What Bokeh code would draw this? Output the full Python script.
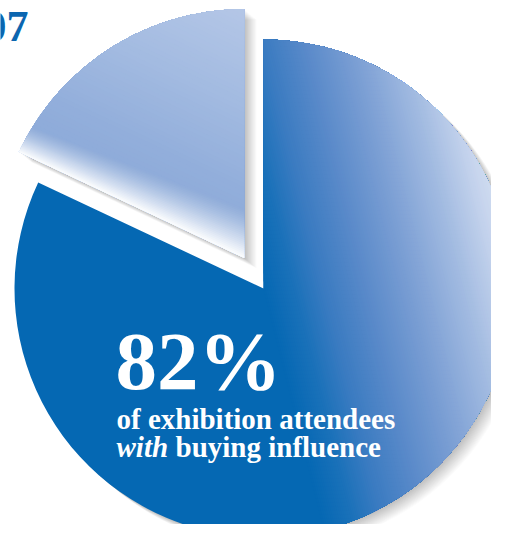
import numpy as np
from bokeh.plotting import figure
from bokeh.models import ColumnDataSource, Range1d
from bokeh.core.properties import value
from bokeh.embed import file_html
from bokeh.resources import INLINE

# ---------------- data ----------------
categories = ["with buying influence", "without buying influence"]
shares = [82, 18]
headline = "82%"
caption_line1 = "of exhibition attendees"
caption_italic = "with"
caption_rest = "buying influence"
page_label = "07"

# ---------------- layout / style ----------------
W, H = 491, 524
R = 249                      # pie radius (1 data unit = 1 px)
CX, CY = 263, 288            # pie centre in picture pixels
EXPLODE = [0, 36]
FONT = "Liberation Serif"
BASE_SHIFT = 0.31            # alphabetic baseline correction (fraction of font size)

p = figure(width=W, height=H, x_range=Range1d(-CX, W - CX), y_range=Range1d(CY - H, CY),
           output_backend="svg", toolbar_location=None, min_border=0)
p.axis.visible = False
p.grid.visible = False
p.outline_line_color = None
p.background_fill_color = "white"
p.border_fill_color = "white"

total = float(sum(shares))
cum = np.cumsum([0] + shares) / total
starts = np.pi / 2 - 2 * np.pi * cum[:-1]
ends = np.pi / 2 - 2 * np.pi * cum[1:]
mids = (starts + ends) / 2
cxs = [e * np.cos(m) for e, m in zip(EXPLODE, mids)]
cys = [e * np.sin(m) for e, m in zip(EXPLODE, mids)]


def hex2rgb(h):
    return np.array([int(h[i:i + 2], 16) for i in (1, 3, 5)], dtype=float)


def rgb2hex(c):
    c = np.clip(np.round(c), 0, 255).astype(int)
    return "#%02x%02x%02x" % tuple(c)


def ramp(stops, v):
    pos = [s[0] for s in stops]
    if v <= pos[0]:
        return stops[0][1]
    if v >= pos[-1]:
        return stops[-1][1]
    for (p0, c0), (p1, c1) in zip(stops[:-1], stops[1:]):
        if p0 <= v <= p1:
            t = (v - p0) / (p1 - p0)
            return rgb2hex(hex2rgb(c0) * (1 - t) + hex2rgb(c1) * t)


def mix(c0, c1, t):
    return rgb2hex(hex2rgb(c0) * (1 - t) + hex2rgb(c1) * t)


def wedge_poly(cx, cy, a0, a1, n=260):
    a = np.linspace(a0, a1, n)
    return [(cx, cy)] + list(zip(cx + R * np.cos(a), cy + R * np.sin(a)))


def clip(poly, nx, ny, c):
    out = []
    n = len(poly)
    for i in range(n):
        x1, y1 = poly[i]
        x2, y2 = poly[(i + 1) % n]
        d1 = nx * x1 + ny * y1 - c
        d2 = nx * x2 + ny * y2 - c
        if d1 >= 0:
            out.append((x1, y1))
        if (d1 >= 0) != (d2 >= 0):
            t = d1 / (d1 - d2)
            out.append((x1 + t * (x2 - x1), y1 + t * (y2 - y1)))
    return out


def add_patches(polys, colors):
    xs, ys, cs = [], [], []
    for poly, c in zip(polys, colors):
        if len(poly) < 3:
            continue
        xs.append([q[0] for q in poly])
        ys.append([q[1] for q in poly])
        cs.append(c)
    src = ColumnDataSource(dict(xs=xs, ys=ys, c=cs))
    p.patches(xs="xs", ys="ys", fill_color="c", line_color=None, source=src)


# ---------------- soft shadows ----------------
N_SH, S_SH = 16, 16
dx, dy = 0.77, -0.64
sh = dict(x=[], y=[], s=[], e=[])
for i in (1, 0):
    for k in range(1, N_SH + 1):
        s = S_SH * k / N_SH
        sh["x"].append(cxs[i] + s * dx)
        sh["y"].append(cys[i] + s * dy)
        sh["s"].append(starts[i])
        sh["e"].append(ends[i])
p.wedge(x="x", y="y", radius=R, start_angle="s", end_angle="e", direction="clock",
        fill_color="black", fill_alpha=0.014, line_color=None,
        source=ColumnDataSource(sh))

# ---------------- slices (base colours) ----------------
base_src = ColumnDataSource(dict(x=cxs, y=cys, s=list(starts), e=list(ends),
                                 c=["#0568B3", "#8FACD9"], cat=categories))
p.wedge(x="x", y="y", radius=R, start_angle="s", end_angle="e", direction="clock",
        fill_color="c", line_color=None, source=base_src)

# ---------------- gradient on the large slice ----------------
big = wedge_poly(cxs[0], cys[0], starts[0], ends[0])
big_stops = [(0, "#0568B3"), (30, "#1A71B9"), (60, "#3A7BC1"), (100, "#5889C9"),
             (150, "#7C9FD4"), (200, "#A2BBE1"), (240, "#C6D4ED"), (270, "#D8E3F3")]
K = 0.25
polys, cols = [], []
for u in np.arange(0, 272, 2.0):
    polys.append(clip(big, 1.0, K, u))
    cols.append(ramp(big_stops, u + 1))
add_patches(polys, cols)

# ---------------- gradient on the small slice ----------------
sm = wedge_poly(cxs[1], cys[1], starts[1], ends[1])
th = starts[1]
d_e = np.array([np.cos(th), np.sin(th)])       # along the lower edge
n_e = np.array([np.sin(th), -np.cos(th)])      # into the slice
V = np.array([cxs[1], cys[1]])
c0 = float(n_e @ V)
sm_stops = [(0, "#8BA9D8"), (60, "#92AEDB"), (140, "#A3BBE1"), (230, "#B5C7E7")]
polys, cols = [], []
for v in np.arange(0, 240, 4.0):
    polys.append(clip(sm, n_e[0], n_e[1], c0 + v))
    cols.append(ramp(sm_stops, v + 2))
add_patches(polys, cols)

# white fade along the lower edge of the small slice
w0, w1 = 48.0, 29.0
NF = 26
polys, cols = [], []
for i in range(1, NF + 1):
    t = i / NF
    Pa = V + n_e * (1 - t) * w0
    Pb = V + R * d_e + n_e * (1 - t) * w1
    L = Pb - Pa
    m = np.array([-L[1], L[0]])
    if m @ (-n_e) < 0:
        m = -m
    polys.append(clip(sm, m[0], m[1], float(m @ Pa)))
    cols.append(mix("#8FACD9", "#FFFFFF", t ** 1.3))
add_patches(polys, cols)


# ---------------- texts ----------------
def label(px, baseline_px, txt, size, style="normal", color="white", align="left"):
    p.text(x=[px - CX], y=[CY - baseline_px + BASE_SHIFT * size], text=[txt],
           text_font=value(FONT), text_font_size=f"{size}px", text_font_style=style,
           text_color=color, text_baseline="alphabetic", text_align=align)


label(115, 386, headline, 83, "bold")
label(116, 427, caption_line1, 29, "bold")
label(116, 455, caption_italic, 29, "bold italic")
label(175, 455, caption_rest, 29, "bold")
label(28, 40, page_label, 44, "bold", color="#0B66B0", align="right")

open("out.html", "w").write(file_html(p, INLINE))
